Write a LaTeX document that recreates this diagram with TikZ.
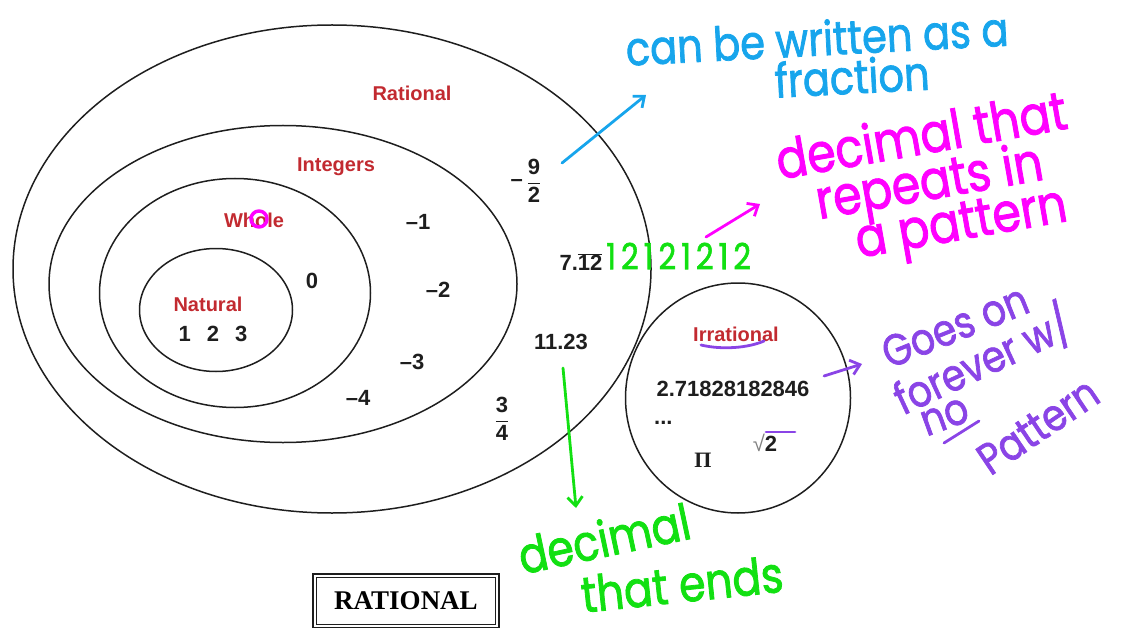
\documentclass[tikz,border=0pt]{standalone}
\usepackage{fontspec}
\setmainfont{Liberation Sans}
\newfontfamily\timesfont{Liberation Serif}
\newfontfamily\handfont[FakeStretch=0.85, FakeBold=1.6]{Poppins}
\usetikzlibrary{positioning, arrows.meta, shapes.geometric}
\definecolor{SetRed}{HTML}{C22A30}
\definecolor{Ink}{HTML}{1E1E1E}
\definecolor{PenBlue}{HTML}{17A5EC}
\definecolor{PenPink}{HTML}{FF00FF}
\definecolor{PenGreen}{HTML}{12E012}
\definecolor{PenPurple}{HTML}{8A44E6}

\begin{document}
\begin{tikzpicture}[
    x=1pt, y=-1pt,
    ring/.style={draw=Ink, line width=1.5pt, ellipse, inner sep=0pt},
    setname/.style={text=SetRed, font=\fontsize{20}{22}\selectfont\bfseries, inner sep=1pt},
    num/.style={text=Ink, font=\fontsize{22}{24}\selectfont\bfseries, inner sep=1pt},
    hand/.style={font=\handfont\fontsize{#1}{#1}\selectfont, inner sep=0pt},
    pen/.style={line width=2.8pt, line cap=round, line join=round},
    penarr/.style={pen, -{Straight Barb[length=9pt, width=15pt]}}
]
\useasboundingbox (0,0) rectangle (1123,628);

% Sets
\node[ring, minimum width=638pt, minimum height=488pt] (rational) at (332,269) {};
\node[ring, minimum width=468pt, minimum height=317pt] (integers) at (283,284) {};
\node[ring, minimum width=271pt, minimum height=229pt] (whole) at (235,293) {};
\node[ring, minimum width=153pt, minimum height=123pt] (natural) at (216,310) {};
\node[ring, minimum width=225pt, minimum height=230pt] (irrational) at (738,398) {};

% Set names
\node[setname] (ratname) at (412,93) {Rational};
\node[setname] (intname) at (336,167) {Integers};
\node[setname] (wholename) at (254,220) {Whole};
\node[setname] (natname) at (208,304) {Natural};
\node[setname] (irrname) at (736,334) {Irrational};

% Members
\node[num] (onetwothree) at (213,334) {1\hspace{16pt}2\hspace{16pt}3};
\node[num] (zero) at (312,281) {0};
\node[num] (mone) at (418,222) {–1};
\node[num] (mtwo) at (438,290) {–2};
\node[num] (mthree) at (412,362) {–3};
\node[num] (mfour) at (358,398) {–4};
\node[num] (ninehalf) at (526,181) {\raisebox{2pt}{–}\,$\displaystyle\frac{\mbox{9}}{\mbox{2}}$};
\node[num] (repdec) at (581,262) {7.$\overline{\mbox{12}}$};
\node[num] (termdec) at (561,342) {11.23};
\node[num] (threeq) at (502,419) {$\displaystyle\frac{\mbox{3}}{\mbox{4}}$};
\node[num] (euler) at (733,389) {2.71828182846};
\node[num, anchor=base west] (dots) at (653,424) {...};
\node[num] (sqrttwo) at (765,443) {{\mdseries\color{gray}√}2};
\node[num, font=\timesfont\bfseries\fontsize{22}{24}\selectfont] (pinum) at (703,460) {Π};

% Box
\node[draw=Ink, line width=2.4pt, minimum width=186pt, minimum height=54pt,
      font=\timesfont\bfseries\fontsize{27}{29}\selectfont] (ratbox) at (406,601) {RATIONAL};
\draw[Ink, line width=0.9pt] ([shift={(5,5)}]ratbox.north west) rectangle ([shift={(-5,-5)}]ratbox.south east);

% Notes
\node[hand=47, text=PenBlue, rotate=3] (fracnote) at (817,38) {can be written as a};
\node[hand=47, text=PenBlue, rotate=3] (fracnote2) at (852,76) {fraction};
\node[hand=54, text=PenPink, rotate=10] (repnote) at (921,134) {decimal that};
\node[hand=54, text=PenPink, rotate=10] (repnote2) at (930,186) {repeats in};
\node[hand=54, text=PenPink, rotate=10] (repnote3) at (962,228) {a pattern};
\node[hand=36, text=PenGreen, anchor=west, font=\handfont\fontsize{36}{36}\selectfont\addfontfeature{LetterSpace=14}] (repdigits) at (606,256) {12121212};
\node[hand=50, text=PenGreen, rotate=12] (endnote) at (604,538) {decimal};
\node[hand=50, text=PenGreen, rotate=6] (endnote2) at (682,584) {that ends};
\node[hand=44, text=PenPurple, rotate=22] (irrnote) at (955,326) {Goes on};
\node[hand=44, text=PenPurple, rotate=25] (irrnote2) at (982,360) {forever w/};
\node[hand=44, text=PenPurple, rotate=20] (irrnote3) at (945,417) {no};
\node[hand=44, text=PenPurple, rotate=34] (irrnote4) at (1038,426) {Pattern};

% Arrows
\coordinate (fractail) at (562,163);
\coordinate (frachead) at (646,95);
\coordinate (reptail) at (706,237);
\coordinate (rephead) at (760,204);
\coordinate (endtail) at (563,368);
\coordinate (endhead) at (576,508);
\coordinate (irrtail) at (824,376);
\coordinate (irrhead) at (862,364);
\draw[penarr, PenBlue] (fractail) -- (frachead);
\draw[penarr, PenPink] (reptail) -- (rephead);
\draw[penarr, PenGreen] (endtail) -- (endhead);
\draw[penarr, PenPurple] (irrtail) -- (irrhead);

% Marks
\draw[pen, PenPink, line width=3.5pt] (259,219) ellipse [x radius=8, y radius=8];
\draw[pen, PenPurple] (701,345) .. controls (722,350) and (748,348) .. (764,341);
\draw[pen, PenPurple] (766,432) -- (795,432);
\draw[pen, PenPurple] (944,443) -- (979,421);

\end{tikzpicture}
\end{document}
